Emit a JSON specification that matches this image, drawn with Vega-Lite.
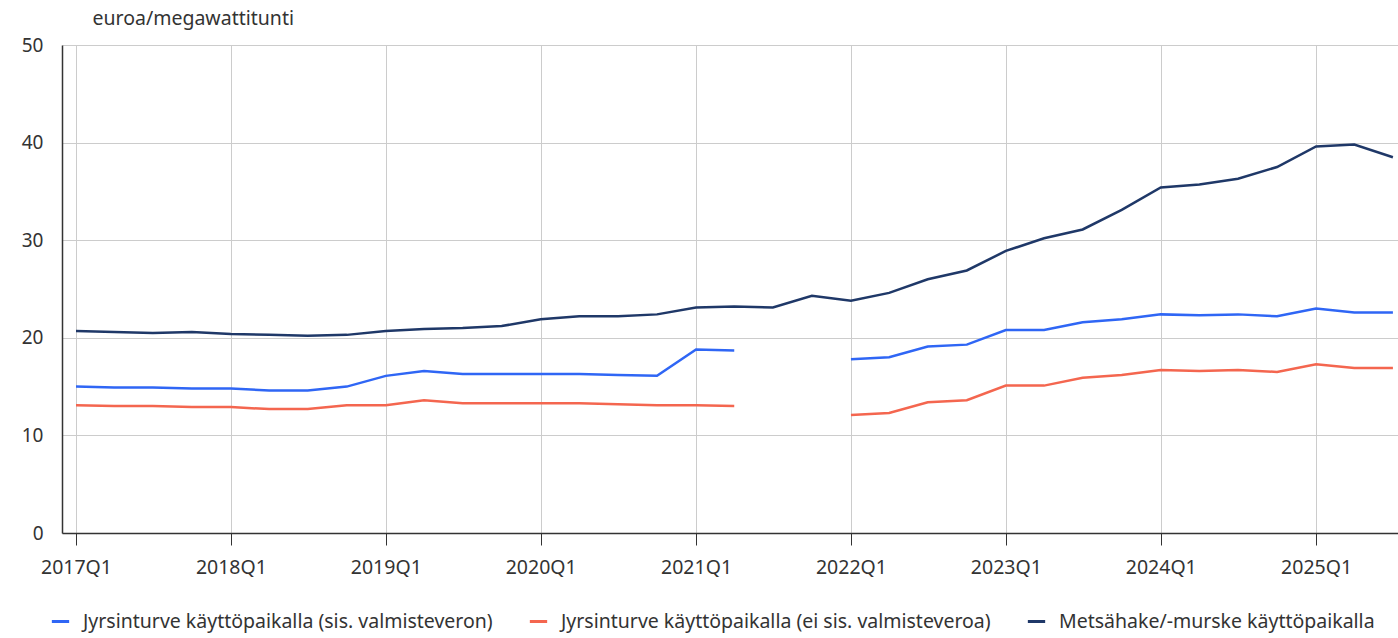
{
  "$schema": "https://vega.github.io/schema/vega-lite/v6.json",
  "width": 1336,
  "height": 488,
  "autosize": {"type": "none"},
  "padding": {"left": 62, "top": 45, "right": 0, "bottom": 105},
  "background": "white",
  "config": {"font": "Noto Sans", "view": {"stroke": null}},
  "datasets": {
    "d": [
      {"aika": "2017-01-01", "sarja": "Jyrsinturve käyttöpaikalla (sis. valmisteveron)", "arvo": 15.0},
      {"aika": "2017-04-01", "sarja": "Jyrsinturve käyttöpaikalla (sis. valmisteveron)", "arvo": 14.9},
      {"aika": "2017-07-01", "sarja": "Jyrsinturve käyttöpaikalla (sis. valmisteveron)", "arvo": 14.9},
      {"aika": "2017-10-01", "sarja": "Jyrsinturve käyttöpaikalla (sis. valmisteveron)", "arvo": 14.8},
      {"aika": "2018-01-01", "sarja": "Jyrsinturve käyttöpaikalla (sis. valmisteveron)", "arvo": 14.8},
      {"aika": "2018-04-01", "sarja": "Jyrsinturve käyttöpaikalla (sis. valmisteveron)", "arvo": 14.6},
      {"aika": "2018-07-01", "sarja": "Jyrsinturve käyttöpaikalla (sis. valmisteveron)", "arvo": 14.6},
      {"aika": "2018-10-01", "sarja": "Jyrsinturve käyttöpaikalla (sis. valmisteveron)", "arvo": 15.0},
      {"aika": "2019-01-01", "sarja": "Jyrsinturve käyttöpaikalla (sis. valmisteveron)", "arvo": 16.1},
      {"aika": "2019-04-01", "sarja": "Jyrsinturve käyttöpaikalla (sis. valmisteveron)", "arvo": 16.6},
      {"aika": "2019-07-01", "sarja": "Jyrsinturve käyttöpaikalla (sis. valmisteveron)", "arvo": 16.3},
      {"aika": "2019-10-01", "sarja": "Jyrsinturve käyttöpaikalla (sis. valmisteveron)", "arvo": 16.3},
      {"aika": "2020-01-01", "sarja": "Jyrsinturve käyttöpaikalla (sis. valmisteveron)", "arvo": 16.3},
      {"aika": "2020-04-01", "sarja": "Jyrsinturve käyttöpaikalla (sis. valmisteveron)", "arvo": 16.3},
      {"aika": "2020-07-01", "sarja": "Jyrsinturve käyttöpaikalla (sis. valmisteveron)", "arvo": 16.2},
      {"aika": "2020-10-01", "sarja": "Jyrsinturve käyttöpaikalla (sis. valmisteveron)", "arvo": 16.1},
      {"aika": "2021-01-01", "sarja": "Jyrsinturve käyttöpaikalla (sis. valmisteveron)", "arvo": 18.8},
      {"aika": "2021-04-01", "sarja": "Jyrsinturve käyttöpaikalla (sis. valmisteveron)", "arvo": 18.7},
      {"aika": "2021-07-01", "sarja": "Jyrsinturve käyttöpaikalla (sis. valmisteveron)", "arvo": null},
      {"aika": "2021-10-01", "sarja": "Jyrsinturve käyttöpaikalla (sis. valmisteveron)", "arvo": null},
      {"aika": "2022-01-01", "sarja": "Jyrsinturve käyttöpaikalla (sis. valmisteveron)", "arvo": 17.8},
      {"aika": "2022-04-01", "sarja": "Jyrsinturve käyttöpaikalla (sis. valmisteveron)", "arvo": 18.0},
      {"aika": "2022-07-01", "sarja": "Jyrsinturve käyttöpaikalla (sis. valmisteveron)", "arvo": 19.1},
      {"aika": "2022-10-01", "sarja": "Jyrsinturve käyttöpaikalla (sis. valmisteveron)", "arvo": 19.3},
      {"aika": "2023-01-01", "sarja": "Jyrsinturve käyttöpaikalla (sis. valmisteveron)", "arvo": 20.8},
      {"aika": "2023-04-01", "sarja": "Jyrsinturve käyttöpaikalla (sis. valmisteveron)", "arvo": 20.8},
      {"aika": "2023-07-01", "sarja": "Jyrsinturve käyttöpaikalla (sis. valmisteveron)", "arvo": 21.6},
      {"aika": "2023-10-01", "sarja": "Jyrsinturve käyttöpaikalla (sis. valmisteveron)", "arvo": 21.9},
      {"aika": "2024-01-01", "sarja": "Jyrsinturve käyttöpaikalla (sis. valmisteveron)", "arvo": 22.4},
      {"aika": "2024-04-01", "sarja": "Jyrsinturve käyttöpaikalla (sis. valmisteveron)", "arvo": 22.3},
      {"aika": "2024-07-01", "sarja": "Jyrsinturve käyttöpaikalla (sis. valmisteveron)", "arvo": 22.4},
      {"aika": "2024-10-01", "sarja": "Jyrsinturve käyttöpaikalla (sis. valmisteveron)", "arvo": 22.2},
      {"aika": "2025-01-01", "sarja": "Jyrsinturve käyttöpaikalla (sis. valmisteveron)", "arvo": 23.0},
      {"aika": "2025-04-01", "sarja": "Jyrsinturve käyttöpaikalla (sis. valmisteveron)", "arvo": 22.6},
      {"aika": "2025-07-01", "sarja": "Jyrsinturve käyttöpaikalla (sis. valmisteveron)", "arvo": 22.6},

      {"aika": "2017-01-01", "sarja": "Jyrsinturve käyttöpaikalla (ei sis. valmisteveroa)", "arvo": 13.1},
      {"aika": "2017-04-01", "sarja": "Jyrsinturve käyttöpaikalla (ei sis. valmisteveroa)", "arvo": 13.0},
      {"aika": "2017-07-01", "sarja": "Jyrsinturve käyttöpaikalla (ei sis. valmisteveroa)", "arvo": 13.0},
      {"aika": "2017-10-01", "sarja": "Jyrsinturve käyttöpaikalla (ei sis. valmisteveroa)", "arvo": 12.9},
      {"aika": "2018-01-01", "sarja": "Jyrsinturve käyttöpaikalla (ei sis. valmisteveroa)", "arvo": 12.9},
      {"aika": "2018-04-01", "sarja": "Jyrsinturve käyttöpaikalla (ei sis. valmisteveroa)", "arvo": 12.7},
      {"aika": "2018-07-01", "sarja": "Jyrsinturve käyttöpaikalla (ei sis. valmisteveroa)", "arvo": 12.7},
      {"aika": "2018-10-01", "sarja": "Jyrsinturve käyttöpaikalla (ei sis. valmisteveroa)", "arvo": 13.1},
      {"aika": "2019-01-01", "sarja": "Jyrsinturve käyttöpaikalla (ei sis. valmisteveroa)", "arvo": 13.1},
      {"aika": "2019-04-01", "sarja": "Jyrsinturve käyttöpaikalla (ei sis. valmisteveroa)", "arvo": 13.6},
      {"aika": "2019-07-01", "sarja": "Jyrsinturve käyttöpaikalla (ei sis. valmisteveroa)", "arvo": 13.3},
      {"aika": "2019-10-01", "sarja": "Jyrsinturve käyttöpaikalla (ei sis. valmisteveroa)", "arvo": 13.3},
      {"aika": "2020-01-01", "sarja": "Jyrsinturve käyttöpaikalla (ei sis. valmisteveroa)", "arvo": 13.3},
      {"aika": "2020-04-01", "sarja": "Jyrsinturve käyttöpaikalla (ei sis. valmisteveroa)", "arvo": 13.3},
      {"aika": "2020-07-01", "sarja": "Jyrsinturve käyttöpaikalla (ei sis. valmisteveroa)", "arvo": 13.2},
      {"aika": "2020-10-01", "sarja": "Jyrsinturve käyttöpaikalla (ei sis. valmisteveroa)", "arvo": 13.1},
      {"aika": "2021-01-01", "sarja": "Jyrsinturve käyttöpaikalla (ei sis. valmisteveroa)", "arvo": 13.1},
      {"aika": "2021-04-01", "sarja": "Jyrsinturve käyttöpaikalla (ei sis. valmisteveroa)", "arvo": 13.0},
      {"aika": "2021-07-01", "sarja": "Jyrsinturve käyttöpaikalla (ei sis. valmisteveroa)", "arvo": null},
      {"aika": "2021-10-01", "sarja": "Jyrsinturve käyttöpaikalla (ei sis. valmisteveroa)", "arvo": null},
      {"aika": "2022-01-01", "sarja": "Jyrsinturve käyttöpaikalla (ei sis. valmisteveroa)", "arvo": 12.1},
      {"aika": "2022-04-01", "sarja": "Jyrsinturve käyttöpaikalla (ei sis. valmisteveroa)", "arvo": 12.3},
      {"aika": "2022-07-01", "sarja": "Jyrsinturve käyttöpaikalla (ei sis. valmisteveroa)", "arvo": 13.4},
      {"aika": "2022-10-01", "sarja": "Jyrsinturve käyttöpaikalla (ei sis. valmisteveroa)", "arvo": 13.6},
      {"aika": "2023-01-01", "sarja": "Jyrsinturve käyttöpaikalla (ei sis. valmisteveroa)", "arvo": 15.1},
      {"aika": "2023-04-01", "sarja": "Jyrsinturve käyttöpaikalla (ei sis. valmisteveroa)", "arvo": 15.1},
      {"aika": "2023-07-01", "sarja": "Jyrsinturve käyttöpaikalla (ei sis. valmisteveroa)", "arvo": 15.9},
      {"aika": "2023-10-01", "sarja": "Jyrsinturve käyttöpaikalla (ei sis. valmisteveroa)", "arvo": 16.2},
      {"aika": "2024-01-01", "sarja": "Jyrsinturve käyttöpaikalla (ei sis. valmisteveroa)", "arvo": 16.7},
      {"aika": "2024-04-01", "sarja": "Jyrsinturve käyttöpaikalla (ei sis. valmisteveroa)", "arvo": 16.6},
      {"aika": "2024-07-01", "sarja": "Jyrsinturve käyttöpaikalla (ei sis. valmisteveroa)", "arvo": 16.7},
      {"aika": "2024-10-01", "sarja": "Jyrsinturve käyttöpaikalla (ei sis. valmisteveroa)", "arvo": 16.5},
      {"aika": "2025-01-01", "sarja": "Jyrsinturve käyttöpaikalla (ei sis. valmisteveroa)", "arvo": 17.3},
      {"aika": "2025-04-01", "sarja": "Jyrsinturve käyttöpaikalla (ei sis. valmisteveroa)", "arvo": 16.9},
      {"aika": "2025-07-01", "sarja": "Jyrsinturve käyttöpaikalla (ei sis. valmisteveroa)", "arvo": 16.9},

      {"aika": "2017-01-01", "sarja": "Metsähake/-murske käyttöpaikalla", "arvo": 20.7},
      {"aika": "2017-04-01", "sarja": "Metsähake/-murske käyttöpaikalla", "arvo": 20.6},
      {"aika": "2017-07-01", "sarja": "Metsähake/-murske käyttöpaikalla", "arvo": 20.5},
      {"aika": "2017-10-01", "sarja": "Metsähake/-murske käyttöpaikalla", "arvo": 20.6},
      {"aika": "2018-01-01", "sarja": "Metsähake/-murske käyttöpaikalla", "arvo": 20.4},
      {"aika": "2018-04-01", "sarja": "Metsähake/-murske käyttöpaikalla", "arvo": 20.3},
      {"aika": "2018-07-01", "sarja": "Metsähake/-murske käyttöpaikalla", "arvo": 20.2},
      {"aika": "2018-10-01", "sarja": "Metsähake/-murske käyttöpaikalla", "arvo": 20.3},
      {"aika": "2019-01-01", "sarja": "Metsähake/-murske käyttöpaikalla", "arvo": 20.7},
      {"aika": "2019-04-01", "sarja": "Metsähake/-murske käyttöpaikalla", "arvo": 20.9},
      {"aika": "2019-07-01", "sarja": "Metsähake/-murske käyttöpaikalla", "arvo": 21.0},
      {"aika": "2019-10-01", "sarja": "Metsähake/-murske käyttöpaikalla", "arvo": 21.2},
      {"aika": "2020-01-01", "sarja": "Metsähake/-murske käyttöpaikalla", "arvo": 21.9},
      {"aika": "2020-04-01", "sarja": "Metsähake/-murske käyttöpaikalla", "arvo": 22.2},
      {"aika": "2020-07-01", "sarja": "Metsähake/-murske käyttöpaikalla", "arvo": 22.2},
      {"aika": "2020-10-01", "sarja": "Metsähake/-murske käyttöpaikalla", "arvo": 22.4},
      {"aika": "2021-01-01", "sarja": "Metsähake/-murske käyttöpaikalla", "arvo": 23.1},
      {"aika": "2021-04-01", "sarja": "Metsähake/-murske käyttöpaikalla", "arvo": 23.2},
      {"aika": "2021-07-01", "sarja": "Metsähake/-murske käyttöpaikalla", "arvo": 23.1},
      {"aika": "2021-10-01", "sarja": "Metsähake/-murske käyttöpaikalla", "arvo": 24.3},
      {"aika": "2022-01-01", "sarja": "Metsähake/-murske käyttöpaikalla", "arvo": 23.8},
      {"aika": "2022-04-01", "sarja": "Metsähake/-murske käyttöpaikalla", "arvo": 24.6},
      {"aika": "2022-07-01", "sarja": "Metsähake/-murske käyttöpaikalla", "arvo": 26.0},
      {"aika": "2022-10-01", "sarja": "Metsähake/-murske käyttöpaikalla", "arvo": 26.9},
      {"aika": "2023-01-01", "sarja": "Metsähake/-murske käyttöpaikalla", "arvo": 28.9},
      {"aika": "2023-04-01", "sarja": "Metsähake/-murske käyttöpaikalla", "arvo": 30.2},
      {"aika": "2023-07-01", "sarja": "Metsähake/-murske käyttöpaikalla", "arvo": 31.1},
      {"aika": "2023-10-01", "sarja": "Metsähake/-murske käyttöpaikalla", "arvo": 33.1},
      {"aika": "2024-01-01", "sarja": "Metsähake/-murske käyttöpaikalla", "arvo": 35.4},
      {"aika": "2024-04-01", "sarja": "Metsähake/-murske käyttöpaikalla", "arvo": 35.7},
      {"aika": "2024-07-01", "sarja": "Metsähake/-murske käyttöpaikalla", "arvo": 36.3},
      {"aika": "2024-10-01", "sarja": "Metsähake/-murske käyttöpaikalla", "arvo": 37.5},
      {"aika": "2025-01-01", "sarja": "Metsähake/-murske käyttöpaikalla", "arvo": 39.6},
      {"aika": "2025-04-01", "sarja": "Metsähake/-murske käyttöpaikalla", "arvo": 39.8},
      {"aika": "2025-07-01", "sarja": "Metsähake/-murske käyttöpaikalla", "arvo": 38.5}
    ]
  },
  "data": {"name": "d"},
  "mark": {"type": "line", "strokeWidth": 2.5},
  "encoding": {
    "x": {
      "field": "aika",
      "type": "temporal",
      "scale": {
        "type": "utc",
        "domain": [
          {"year": 2016, "month": 11, "date": 29, "utc": true},
          {"year": 2025, "month": 7, "date": 13, "utc": true}
        ]
      },
      "axis": {
        "title": null,
        "tickCount": {"interval": "year", "step": 1},
        "labelExpr": "utcFormat(datum.value, '%Y') + 'Q' + (floor(utcmonth(datum.value) / 3) + 1)",
        "labelFontSize": 19.5,
        "labelColor": "#333333",
        "labelPadding": 13,
        "labelFlush": false,
        "labelOverlap": false,
        "domainColor": "#333333",
        "domainWidth": 1.5,
        "tickColor": "#333333",
        "tickSize": 12,
        "tickWidth": 1,
        "grid": true,
        "gridColor": "#cccccc",
        "gridWidth": 1
      }
    },
    "y": {
      "field": "arvo",
      "type": "quantitative",
      "scale": {"domain": [0, 50], "nice": false},
      "axis": {
        "values": [0, 10, 20, 30, 40, 50],
        "title": "euroa/megawattitunti",
        "titleAngle": 0,
        "titleAlign": "left",
        "titleBaseline": "middle",
        "titleX": 30,
        "titleY": -27,
        "titleFontSize": 19.5,
        "titleFontWeight": "normal",
        "titleColor": "#333333",
        "labelFontSize": 19,
        "labelColor": "#333333",
        "labelPadding": 19,
        "ticks": false,
        "domainColor": "#333333",
        "domainWidth": 1.5,
        "grid": true,
        "gridColor": "#cccccc",
        "gridWidth": 1
      }
    },
    "color": {
      "field": "sarja",
      "type": "nominal",
      "scale": {
        "domain": [
          "Jyrsinturve käyttöpaikalla (sis. valmisteveron)",
          "Jyrsinturve käyttöpaikalla (ei sis. valmisteveroa)",
          "Metsähake/-murske käyttöpaikalla"
        ],
        "range": ["#2f66f5", "#f4664f", "#1f3868"]
      },
      "legend": {
        "title": null,
        "orient": "none",
        "direction": "horizontal",
        "legendX": -12,
        "legendY": 566,
        "symbolType": "stroke",
        "symbolStrokeWidth": 3,
        "symbolSize": 300,
        "labelFontSize": 19.5,
        "labelColor": "#333333",
        "labelOffset": 12,
        "columnPadding": 30,
        "labelLimit": 600
      }
    }
  }
}
